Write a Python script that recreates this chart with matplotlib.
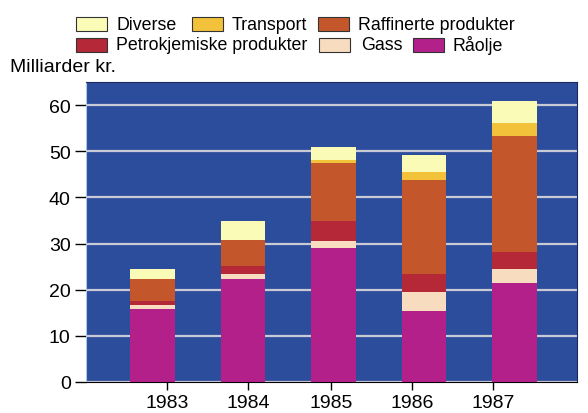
import matplotlib.pyplot as plt
from matplotlib.patches import Rectangle

years = ["1983", "1984", "1985", "1986", "1987"]
raolje = [15.8, 22.3, 29.0, 15.3, 21.4]
gass = [0.9, 1.1, 1.5, 4.1, 3.1]
petrokjemiske = [0.8, 1.8, 4.3, 4.0, 3.6]
raffinerte = [4.8, 5.6, 12.6, 20.3, 25.1]
transport = [0.0, 0.0, 0.8, 1.9, 3.0]
diverse = [2.2, 4.1, 2.8, 3.6, 4.7]
yticks = [0, 10, 20, 30, 40, 50, 60]

series = [
    ("Råolje", raolje, "#b3208a"),
    ("Gass", gass, "#f8dcc0"),
    ("Petrokjemiske produkter", petrokjemiske, "#b52838"),
    ("Raffinerte produkter", raffinerte, "#c4562c"),
    ("Transport", transport, "#f2c23a"),
    ("Diverse", diverse, "#fbfbb8"),
]
colors = {name: c for name, _, c in series}

plt.rcParams['font.family'] = ['Liberation Sans', 'DejaVu Sans']

fig = plt.figure(figsize=(5.88, 4.14), dpi=100)
ax = fig.add_axes([86 / 588, 31 / 414, 491 / 588, 300 / 414])
ax.set_facecolor("#2c4c9c")

x = list(range(len(years)))
bottom = [0.0] * len(years)
for name, vals, color in series:
    ax.bar(x, vals, width=0.49, bottom=bottom, color=color, zorder=3)
    bottom = [b + v for b, v in zip(bottom, vals)]

ax.set_ylim(0, 65)
ax.set_xlim(-0.735, 4.69)
ax.set_yticks(yticks)
ax.yaxis.grid(True, color="#c8cbd6", linewidth=1.6, zorder=1)
ax.set_axisbelow(True)

# year ticks in the original sit a bit off the bar centres
ax.set_xticks([0.16, 1.055, 1.97, 2.87, 3.76])
ax.set_xticklabels(years)
ax.tick_params(axis="y", length=8, width=1, labelsize=14, pad=3)
ax.tick_params(axis="x", length=6, width=1, labelsize=14, pad=3)

for side in ["top", "right"]:
    ax.spines[side].set_color("#1a2a60")
ax.spines["bottom"].set_color("black")
ax.spines["left"].set_color("#a8c8e8")

fig.text(10 / 588, 1 - 68 / 414, "Milliarder kr.", fontsize=14, va="center", ha="left")

# legend, laid out as flowing text like the original
legend_rows = [
    (25, [(76, "Diverse"), (192, "Transport"), (318, "Raffinerte produkter")]),
    (45.5, [(76, "Petrokjemiske produkter"), (319, "Gass"), (413, "Råolje")]),
]
text_offset = {"Gass": 42}
for ypix, items in legend_rows:
    for xpix, name in items:
        fig.patches.append(Rectangle((xpix / 588, 1 - (ypix + 7) / 414), 31 / 588, 14 / 414,
                                     transform=fig.transFigure, facecolor=colors[name],
                                     edgecolor="#333333", linewidth=0.8))
        fig.text((xpix + text_offset.get(name, 40)) / 588, 1 - ypix / 414, name,
                 fontsize=12.8, va="center", ha="left")

fig.savefig("out.png", dpi=100)
